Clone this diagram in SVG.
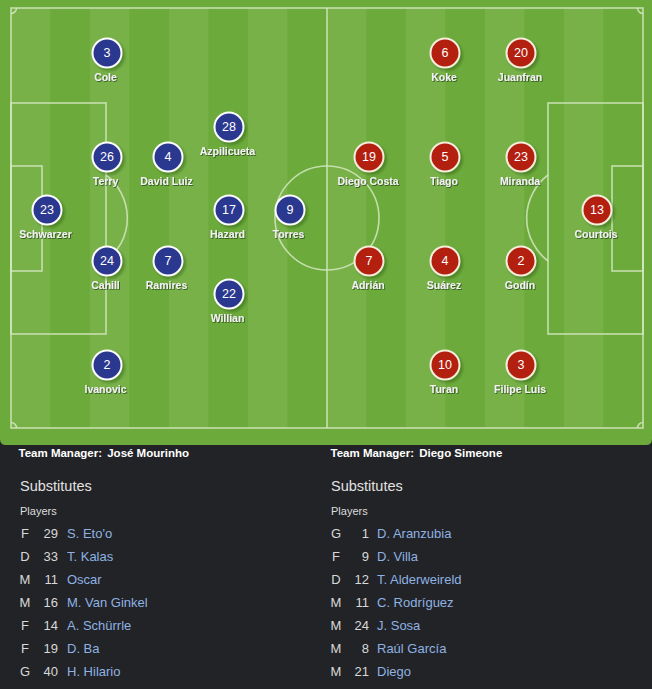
<svg xmlns="http://www.w3.org/2000/svg" width="652" height="689" viewBox="0 0 652 689">
<defs>
<style>
.line{fill:none;stroke:#d3e8bf;stroke-width:1.6;stroke-opacity:0.85}
.sh{fill:#1f4a0c;fill-opacity:0.35;filter:url(#blur)}
.blue .disc{fill:#2b388f;stroke:#ffffff;stroke-width:2}
.red .disc{fill:#b3200f;stroke:#f6eedc;stroke-width:2}
.num{font-family:"Liberation Sans",Arial,sans-serif;font-size:12.5px;fill:#ffffff;text-anchor:middle}
.name{font-family:"Liberation Sans",Arial,sans-serif;font-size:10.5px;font-weight:bold;fill:#f2f2f2;text-anchor:middle;filter:url(#ts)}
.mgr{font-family:"Liberation Sans",Arial,sans-serif;font-size:11.5px;font-weight:bold;fill:#ffffff}
.subs{font-family:"Liberation Sans",Arial,sans-serif;font-size:14.5px;fill:#e2e2e2}
.pl{font-family:"Liberation Sans",Arial,sans-serif;font-size:11px;fill:#dcdcdc}
.pos{font-family:"Liberation Sans",Arial,sans-serif;font-size:13px;fill:#d8d8d8;text-anchor:middle}
.no{font-family:"Liberation Sans",Arial,sans-serif;font-size:13px;fill:#d8d8d8;text-anchor:end}
.nm{font-family:"Liberation Sans",Arial,sans-serif;font-size:13px;fill:#8fb2e2}
</style>
<filter id="blur" x="-30%" y="-30%" width="160%" height="160%"><feGaussianBlur stdDeviation="1"/></filter>
<filter id="ts" x="-10%" y="-30%" width="120%" height="160%"><feDropShadow dx="0.8" dy="0.8" stdDeviation="0.4" flood-color="#1a3608" flood-opacity="0.8"/></filter>
<pattern id="stripes" patternUnits="userSpaceOnUse" x="11" y="0" width="79" height="10">
<rect x="0" y="0" width="39.5" height="10" fill="#77b148"/>
<rect x="39.5" y="0" width="39.5" height="10" fill="#6caa3c"/>
</pattern>
</defs>
<rect x="0" y="0" width="652" height="689" fill="#222327"/>
<path d="M0,0 H652 V439 Q652,445 646,445 H6 Q0,445 0,439 Z" fill="#6caa3c"/>
<rect x="11" y="8" width="632" height="420" fill="url(#stripes)"/>
<g id="pitch-lines">
<rect class="line" x="11" y="8" width="632" height="420"/>
<line class="line" x1="327" y1="8" x2="327" y2="428"/>
<circle class="line" cx="327" cy="218" r="52"/>
<rect class="line" x="11" y="103" width="95" height="231"/>
<rect class="line" x="11" y="166" width="31" height="105"/>
<path class="line" d="M106,175 A54,54 0 0 1 106,261"/>
<rect class="line" x="548" y="103" width="95" height="231"/>
<rect class="line" x="612" y="166" width="31" height="105"/>
<path class="line" d="M548,175 A54,54 0 0 0 548,261"/>
<path class="line" d="M11,13.5 A5.5,5.5 0 0 0 16.5,8"/>
<path class="line" d="M637.5,8 A5.5,5.5 0 0 0 643,13.5"/>
<path class="line" d="M11,422.5 A5.5,5.5 0 0 1 16.5,428"/>
<path class="line" d="M637.5,428 A5.5,5.5 0 0 1 643,422.5"/>
</g>
<g id="chelsea">
<g id="p-cole" class="blue" transform="translate(107,53)"><circle class="sh" cx="2.5" cy="2.5" r="15.5"/><circle class="disc" r="14.5"/><text class="num" y="4.4">3</text><text class="name" x="-1.5" y="28">Cole</text></g>
<g id="p-terry" class="blue" transform="translate(107,157)"><circle class="sh" cx="2.5" cy="2.5" r="15.5"/><circle class="disc" r="14.5"/><text class="num" y="4.4">26</text><text class="name" x="-1.5" y="28">Terry</text></g>
<g id="p-davidluiz" class="blue" transform="translate(168,157)"><circle class="sh" cx="2.5" cy="2.5" r="15.5"/><circle class="disc" r="14.5"/><text class="num" y="4.4">4</text><text class="name" x="-1.5" y="28">David Luiz</text></g>
<g id="p-azpilicueta" class="blue" transform="translate(229,127)"><circle class="sh" cx="2.5" cy="2.5" r="15.5"/><circle class="disc" r="14.5"/><text class="num" y="4.4">28</text><text class="name" x="-1.5" y="28">Azpilicueta</text></g>
<g id="p-schwarzer" class="blue" transform="translate(47,210)"><circle class="sh" cx="2.5" cy="2.5" r="15.5"/><circle class="disc" r="14.5"/><text class="num" y="4.4">23</text><text class="name" x="-1.5" y="28">Schwarzer</text></g>
<g id="p-hazard" class="blue" transform="translate(229,210)"><circle class="sh" cx="2.5" cy="2.5" r="15.5"/><circle class="disc" r="14.5"/><text class="num" y="4.4">17</text><text class="name" x="-1.5" y="28">Hazard</text></g>
<g id="p-torres" class="blue" transform="translate(290,210)"><circle class="sh" cx="2.5" cy="2.5" r="15.5"/><circle class="disc" r="14.5"/><text class="num" y="4.4">9</text><text class="name" x="-1.5" y="28">Torres</text></g>
<g id="p-cahill" class="blue" transform="translate(107,261)"><circle class="sh" cx="2.5" cy="2.5" r="15.5"/><circle class="disc" r="14.5"/><text class="num" y="4.4">24</text><text class="name" x="-1.5" y="28">Cahill</text></g>
<g id="p-ramires" class="blue" transform="translate(168,261)"><circle class="sh" cx="2.5" cy="2.5" r="15.5"/><circle class="disc" r="14.5"/><text class="num" y="4.4">7</text><text class="name" x="-1.5" y="28">Ramires</text></g>
<g id="p-willian" class="blue" transform="translate(229,294)"><circle class="sh" cx="2.5" cy="2.5" r="15.5"/><circle class="disc" r="14.5"/><text class="num" y="4.4">22</text><text class="name" x="-1.5" y="28">Willian</text></g>
<g id="p-ivanovic" class="blue" transform="translate(107,365)"><circle class="sh" cx="2.5" cy="2.5" r="15.5"/><circle class="disc" r="14.5"/><text class="num" y="4.4">2</text><text class="name" x="-1.5" y="28">Ivanovic</text></g>
</g>
<g id="atletico">
<g id="p-koke" class="red" transform="translate(445,53)"><circle class="sh" cx="2.5" cy="2.5" r="15.5"/><circle class="disc" r="14.5"/><text class="num" y="4.4">6</text><text class="name" x="-1" y="28">Koke</text></g>
<g id="p-juanfran" class="red" transform="translate(521,53)"><circle class="sh" cx="2.5" cy="2.5" r="15.5"/><circle class="disc" r="14.5"/><text class="num" y="4.4">20</text><text class="name" x="-1" y="28">Juanfran</text></g>
<g id="p-diegocosta" class="red" transform="translate(369,157)"><circle class="sh" cx="2.5" cy="2.5" r="15.5"/><circle class="disc" r="14.5"/><text class="num" y="4.4">19</text><text class="name" x="-1" y="28">Diego Costa</text></g>
<g id="p-tiago" class="red" transform="translate(445,157)"><circle class="sh" cx="2.5" cy="2.5" r="15.5"/><circle class="disc" r="14.5"/><text class="num" y="4.4">5</text><text class="name" x="-1" y="28">Tiago</text></g>
<g id="p-miranda" class="red" transform="translate(521,157)"><circle class="sh" cx="2.5" cy="2.5" r="15.5"/><circle class="disc" r="14.5"/><text class="num" y="4.4">23</text><text class="name" x="-1" y="28">Miranda</text></g>
<g id="p-courtois" class="red" transform="translate(597,210)"><circle class="sh" cx="2.5" cy="2.5" r="15.5"/><circle class="disc" r="14.5"/><text class="num" y="4.4">13</text><text class="name" x="-1" y="28">Courtois</text></g>
<g id="p-adrian" class="red" transform="translate(369,261)"><circle class="sh" cx="2.5" cy="2.5" r="15.5"/><circle class="disc" r="14.5"/><text class="num" y="4.4">7</text><text class="name" x="-1" y="28">Adrián</text></g>
<g id="p-suarez" class="red" transform="translate(445,261)"><circle class="sh" cx="2.5" cy="2.5" r="15.5"/><circle class="disc" r="14.5"/><text class="num" y="4.4">4</text><text class="name" x="-1" y="28">Suárez</text></g>
<g id="p-godin" class="red" transform="translate(521,261)"><circle class="sh" cx="2.5" cy="2.5" r="15.5"/><circle class="disc" r="14.5"/><text class="num" y="4.4">2</text><text class="name" x="-1" y="28">Godín</text></g>
<g id="p-turan" class="red" transform="translate(445,365)"><circle class="sh" cx="2.5" cy="2.5" r="15.5"/><circle class="disc" r="14.5"/><text class="num" y="4.4">10</text><text class="name" x="-1" y="28">Turan</text></g>
<g id="p-filipeluis" class="red" transform="translate(521,365)"><circle class="sh" cx="2.5" cy="2.5" r="15.5"/><circle class="disc" r="14.5"/><text class="num" y="4.4">3</text><text class="name" x="-1" y="28">Filipe Luis</text></g>
</g>
<g id="chelsea-info">
<text class="mgr" x="18.5" y="457">Team Manager:<tspan dx="2"> José Mourinho</tspan></text>
<text class="subs" x="20" y="491">Substitutes</text>
<text class="pl" x="20" y="514.5">Players</text>
<g id="chelsea-subs">
<text class="pos" x="25" y="538">F</text><text class="no" x="58" y="538">29</text><text class="nm" x="67" y="538">S. Eto'o</text>
<text class="pos" x="25" y="561">D</text><text class="no" x="58" y="561">33</text><text class="nm" x="67" y="561">T. Kalas</text>
<text class="pos" x="25" y="584">M</text><text class="no" x="58" y="584">11</text><text class="nm" x="67" y="584">Oscar</text>
<text class="pos" x="25" y="607">M</text><text class="no" x="58" y="607">16</text><text class="nm" x="67" y="607">M. Van Ginkel</text>
<text class="pos" x="25" y="630">F</text><text class="no" x="58" y="630">14</text><text class="nm" x="67" y="630">A. Schürrle</text>
<text class="pos" x="25" y="653">F</text><text class="no" x="58" y="653">19</text><text class="nm" x="67" y="653">D. Ba</text>
<text class="pos" x="25" y="676">G</text><text class="no" x="58" y="676">40</text><text class="nm" x="67" y="676">H. Hilario</text>
</g>
</g>
<g id="atletico-info">
<text class="mgr" x="330.5" y="457">Team Manager:<tspan dx="2"> Diego Simeone</tspan></text>
<text class="subs" x="331" y="491">Substitutes</text>
<text class="pl" x="331" y="514.5">Players</text>
<g id="atletico-subs">
<text class="pos" x="336" y="538">G</text><text class="no" x="369" y="538">1</text><text class="nm" x="377" y="538">D. Aranzubia</text>
<text class="pos" x="336" y="561">F</text><text class="no" x="369" y="561">9</text><text class="nm" x="377" y="561">D. Villa</text>
<text class="pos" x="336" y="584">D</text><text class="no" x="369" y="584">12</text><text class="nm" x="377" y="584">T. Alderweireld</text>
<text class="pos" x="336" y="607">M</text><text class="no" x="369" y="607">11</text><text class="nm" x="377" y="607">C. Rodríguez</text>
<text class="pos" x="336" y="630">M</text><text class="no" x="369" y="630">24</text><text class="nm" x="377" y="630">J. Sosa</text>
<text class="pos" x="336" y="653">M</text><text class="no" x="369" y="653">8</text><text class="nm" x="377" y="653">Raúl García</text>
<text class="pos" x="336" y="676">M</text><text class="no" x="369" y="676">21</text><text class="nm" x="377" y="676">Diego</text>
</g>
</g>
</svg>
